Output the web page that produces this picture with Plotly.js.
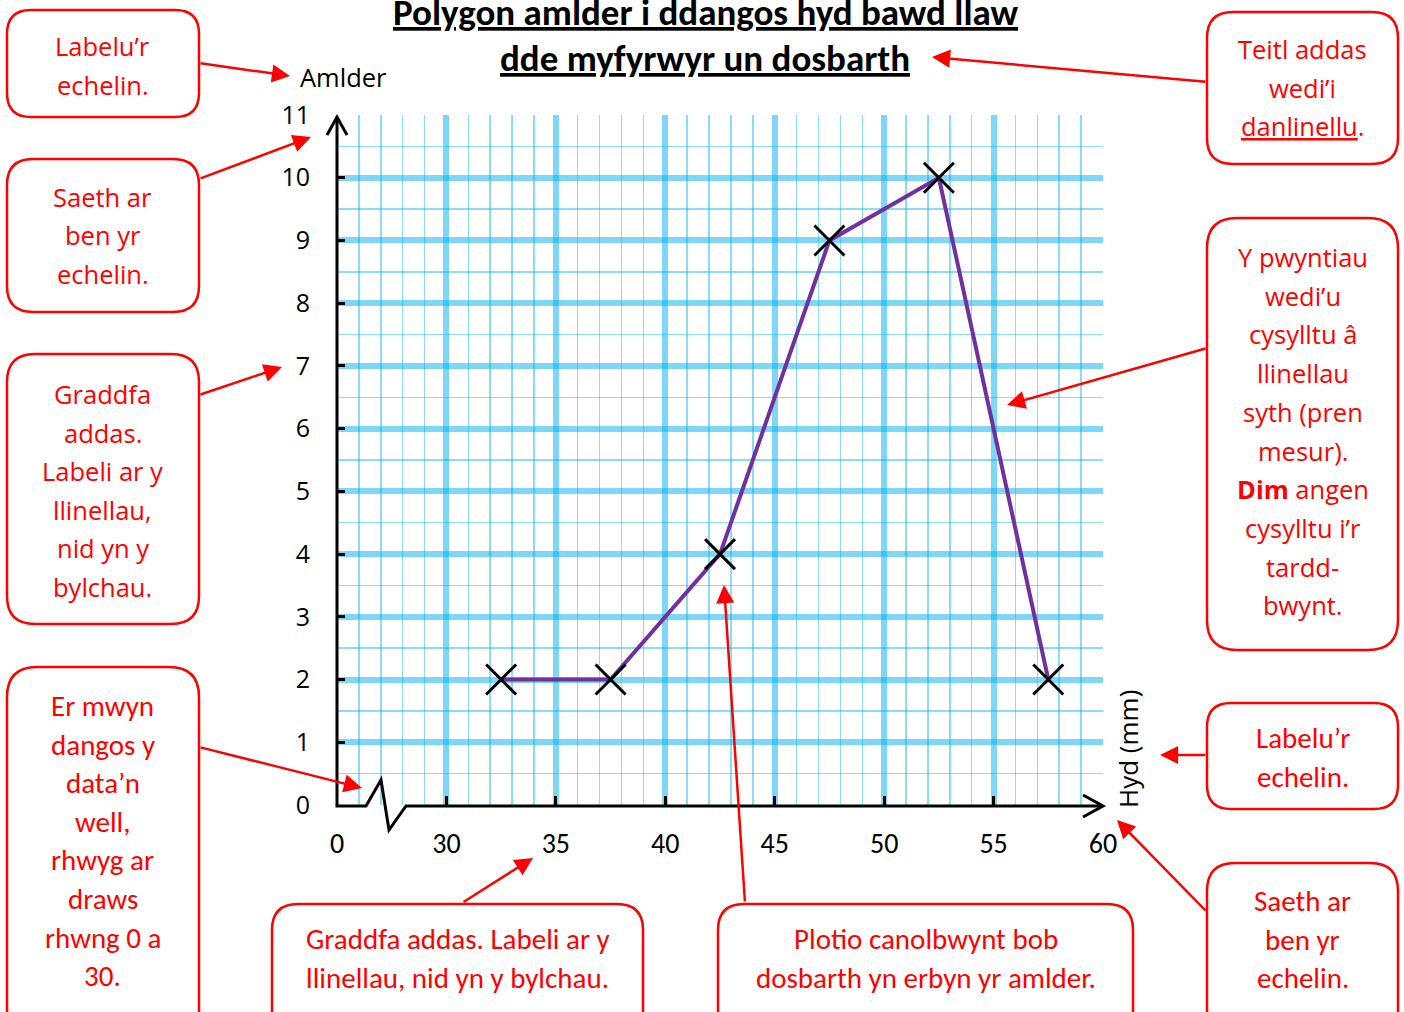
<!DOCTYPE html>
<html>
<head>
<meta charset="utf-8">
<script src="https://cdn.plot.ly/plotly-3.0.1.min.js"></script>
<style>html,body{margin:0;padding:0;background:#fff;}#chart{width:1404px;height:1012px;}</style>
</head>
<body>
<div id="chart"></div>
<script>
// ---- data ----
const midpoints = [32.5, 37.5, 42.5, 47.5, 52.5, 57.5];
const frequencies = [2, 2, 4, 9, 10, 2];
const xTickVals = [25, 30, 35, 40, 45, 50, 55, 60];
const xTickText = ['0', '30', '35', '40', '45', '50', '55', '60'];
const yTickVals = [0, 1, 2, 3, 4, 5, 6, 7, 8, 9, 10, 11];
const yTickText = ['0', '1', '2', '3', '4', '5', '6', '7', '8', '9', '10', '11'];
const titleLines = ['Polygon amlder i ddangos hyd bawd llaw', 'dde myfyrwyr un dosbarth'];
const yAxisLabel = 'Amlder';
const xAxisLabel = 'Hyd (mm)';

const boxLabelYAxis = ['Labelu’r', 'echelin.'];
const boxArrowYAxis = ['Saeth ar', 'ben yr', 'echelin.'];
const boxScaleY = ['Graddfa', 'addas.', 'Labeli ar y', 'llinellau,', 'nid yn y', 'bylchau.'];
const boxBreak = ['Er mwyn', 'dangos y', 'data’n', 'well,', 'rhwyg ar', 'draws', 'rhwng 0 a', '30.'];
const boxScaleX = ['Graddfa addas. Labeli ar y', 'llinellau, nid yn y bylchau.'];
const boxMidpoint = ['Plotio canolbwynt bob', 'dosbarth yn erbyn yr amlder.'];
const boxArrowXAxis = ['Saeth ar', 'ben yr', 'echelin.'];
const boxLabelXAxis = ['Labelu’r', 'echelin.'];
const boxJoin = ['Y pwyntiau', 'wedi’u', 'cysylltu â', 'llinellau', 'syth (pren', 'mesur).', '<b>Dim</b> angen', 'cysylltu i’r', 'tardd-', 'bwynt.'];
const boxTitle = ['Teitl addas', 'wedi’i', '<u>danlinellu</u>.'];

// ---- layout helpers (pixel -> paper) ----
const L = 337, T = 115, W = 766, H = 690;
const px = x => (x - L) / W;
const py = y => (T + H - y) / H;
const RED = '#ff0000';
const WIDE = 'Open Sans, Segoe UI, sans-serif';
const NARROW = 'Carlito, Lato, sans-serif';
const WSIZE = 25.5, NSIZE = 29;

function rr(x0, y0, x1, y1, r) {
  return `M${px(x0 + r)},${py(y0)} L${px(x1 - r)},${py(y0)} Q${px(x1)},${py(y0)} ${px(x1)},${py(y0 + r)} ` +
    `L${px(x1)},${py(y1 - r)} Q${px(x1)},${py(y1)} ${px(x1 - r)},${py(y1)} L${px(x0 + r)},${py(y1)} ` +
    `Q${px(x0)},${py(y1)} ${px(x0)},${py(y1 - r)} L${px(x0)},${py(y0 + r)} Q${px(x0)},${py(y0)} ${px(x0 + r)},${py(y0)} Z`;
}
function poly(pts) {
  return pts.map((p, i) => (i ? 'L' : 'M') + px(p[0]) + ',' + py(p[1])).join(' ');
}

const shapes = [];
const annotations = [];

function box(x0, y0, x1, y1, r, lines, firstY, step, family, size) {
  shapes.push({type: 'path', xref: 'paper', yref: 'paper', path: rr(x0, y0, x1, y1, r),
    line: {color: RED, width: 2.5}, fillcolor: 'rgba(255,255,255,0)', layer: 'above'});
  lines.forEach((t, i) => {
    annotations.push({xref: 'paper', yref: 'paper', x: px((x0 + x1) / 2), y: py(firstY + i * step),
      text: t, showarrow: false, xanchor: 'center', yanchor: 'middle',
      font: {family: family, size: size, color: RED}});
  });
}
function arrow(tx, ty, hx, hy) {
  annotations.push({xref: 'paper', yref: 'paper', x: px(hx), y: py(hy), ax: tx - hx, ay: ty - hy,
    axref: 'pixel', ayref: 'pixel', text: '', showarrow: true, arrowhead: 2, arrowsize: 1.45,
    arrowwidth: 2.5, arrowcolor: RED, standoff: 0, startstandoff: 0});
}

// boxes
box(7, 10, 199, 117, 24, boxLabelYAxis, 46, 38.5, WIDE, WSIZE);
box(7, 159, 199, 312, 26, boxArrowYAxis, 197, 38.5, WIDE, WSIZE);
box(7, 354, 199, 624, 28, boxScaleY, 394, 38.6, WIDE, WSIZE);
box(7, 667, 199, 1040, 30, boxBreak, 706, 38.6, NARROW, NSIZE);
box(272, 904, 643, 1040, 26, boxScaleX, 939, 39, NARROW, NSIZE);
box(718, 904, 1133, 1040, 26, boxMidpoint, 939, 39, NARROW, NSIZE);
box(1207, 863, 1398, 1040, 28, boxArrowXAxis, 901, 38.5, NARROW, NSIZE);
box(1207, 703, 1398, 809, 24, boxLabelXAxis, 738, 38.5, NARROW, NSIZE);
box(1207, 218, 1398, 650, 30, boxJoin, 257, 38.7, WIDE, WSIZE);
box(1207, 12, 1398, 164, 26, boxTitle, 49, 38.5, WIDE, WSIZE);

// arrows
arrow(199, 63, 290, 76);
arrow(199, 179, 311, 137);
arrow(199, 395, 282, 367);
arrow(199, 747, 362, 788);
arrow(462, 903, 533, 858);
arrow(745, 903, 724, 585);
arrow(1207, 912, 1117, 820);
arrow(1207, 755, 1160, 755);
arrow(1207, 348, 1007, 405);
arrow(1207, 82, 932, 57);

// axis lines (with break) and arrowheads
const AX = {color: '#000', width: 3};
shapes.push({type: 'path', xref: 'paper', yref: 'paper', layer: 'above', line: AX,
  path: poly([[337, 805], [337, 117]])});
shapes.push({type: 'path', xref: 'paper', yref: 'paper', layer: 'above', line: AX,
  path: poly([[327, 135], [337, 117], [347, 135]])});
shapes.push({type: 'path', xref: 'paper', yref: 'paper', layer: 'above', line: AX,
  path: poly([[335.5, 806], [366, 806], [381, 780], [389, 830], [406, 806], [1103, 806]])});
shapes.push({type: 'path', xref: 'paper', yref: 'paper', layer: 'above', line: AX,
  path: poly([[1083, 795], [1103, 806], [1083, 817]])});

// titles and axis labels
titleLines.forEach((t, i) => {
  annotations.push({xref: 'paper', yref: 'paper', x: px(705), y: py(12 + i * 46), text: '<b><u>' + t + '</u></b>',
    showarrow: false, xanchor: 'center', yanchor: 'middle', font: {family: NARROW, size: 37, color: '#000'}});
});
annotations.push({xref: 'paper', yref: 'paper', x: px(298), y: py(77), text: yAxisLabel, showarrow: false,
  xanchor: 'left', yanchor: 'middle', font: {family: WIDE, size: 25.5, color: '#000'}});
annotations.push({xref: 'paper', yref: 'paper', x: px(1128), y: py(749), text: xAxisLabel, showarrow: false,
  textangle: -90, xanchor: 'center', yanchor: 'middle', font: {family: WIDE, size: 26, color: '#000'}});

// tick label aliases built from the tick arrays
const xAlias = {}; xTickVals.forEach((v, i) => { xAlias[String(v)] = xTickText[i]; });
const yAlias = {}; yTickVals.forEach((v, i) => { yAlias[String(v)] = yTickText[i]; });

const MAJOR = 'rgba(0,176,240,0.5)';
const MINOR = 'rgba(0,176,240,0.45)';

const trace = {
  x: midpoints, y: frequencies, type: 'scatter', mode: 'lines+markers', cliponaxis: false,
  line: {color: '#7030A0', width: 4},
  marker: {symbol: 'x-thin', size: 30, color: '#000', line: {color: '#000', width: 3}}
};

const layout = {
  width: 1404, height: 1012,
  margin: {l: L, r: 1404 - L - W, t: T, b: 1012 - T - H, pad: 0},
  paper_bgcolor: '#fff', plot_bgcolor: '#fff', showlegend: false,
  xaxis: {range: [xTickVals[0], xTickVals[xTickVals.length - 1]], tickmode: 'linear',
    tick0: xTickVals[0], dtick: xTickVals[1] - xTickVals[0], labelalias: xAlias,
    showgrid: true, gridcolor: MAJOR, gridwidth: 6, zeroline: false, showline: false,
    ticks: 'inside', ticklen: 9, tickwidth: 3, tickcolor: '#000', ticklabelstandoff: 19,
    tickfont: {family: NARROW, size: 28, color: '#000'},
    minor: {tickmode: 'linear', tick0: 25, dtick: 1, showgrid: true, gridcolor: MINOR, gridwidth: 1.5, ticks: ''},
    fixedrange: true},
  yaxis: {range: [yTickVals[0], yTickVals[yTickVals.length - 1]], tickmode: 'linear',
    tick0: yTickVals[0], dtick: yTickVals[1] - yTickVals[0], labelalias: yAlias,
    showgrid: true, gridcolor: MAJOR, gridwidth: 6, zeroline: false, showline: false,
    ticks: 'inside', ticklen: 8, tickwidth: 3, tickcolor: '#000', ticklabelstandoff: 26,
    tickfont: {family: WIDE, size: 25, color: '#000'},
    minor: {tickmode: 'linear', tick0: 0, dtick: 0.5, showgrid: true, gridcolor: MINOR, gridwidth: 1.5, ticks: ''},
    fixedrange: true},
  shapes: shapes,
  annotations: annotations
};

Plotly.newPlot('chart', [trace], layout, {displayModeBar: false, staticPlot: true});
</script>
</body>
</html>
